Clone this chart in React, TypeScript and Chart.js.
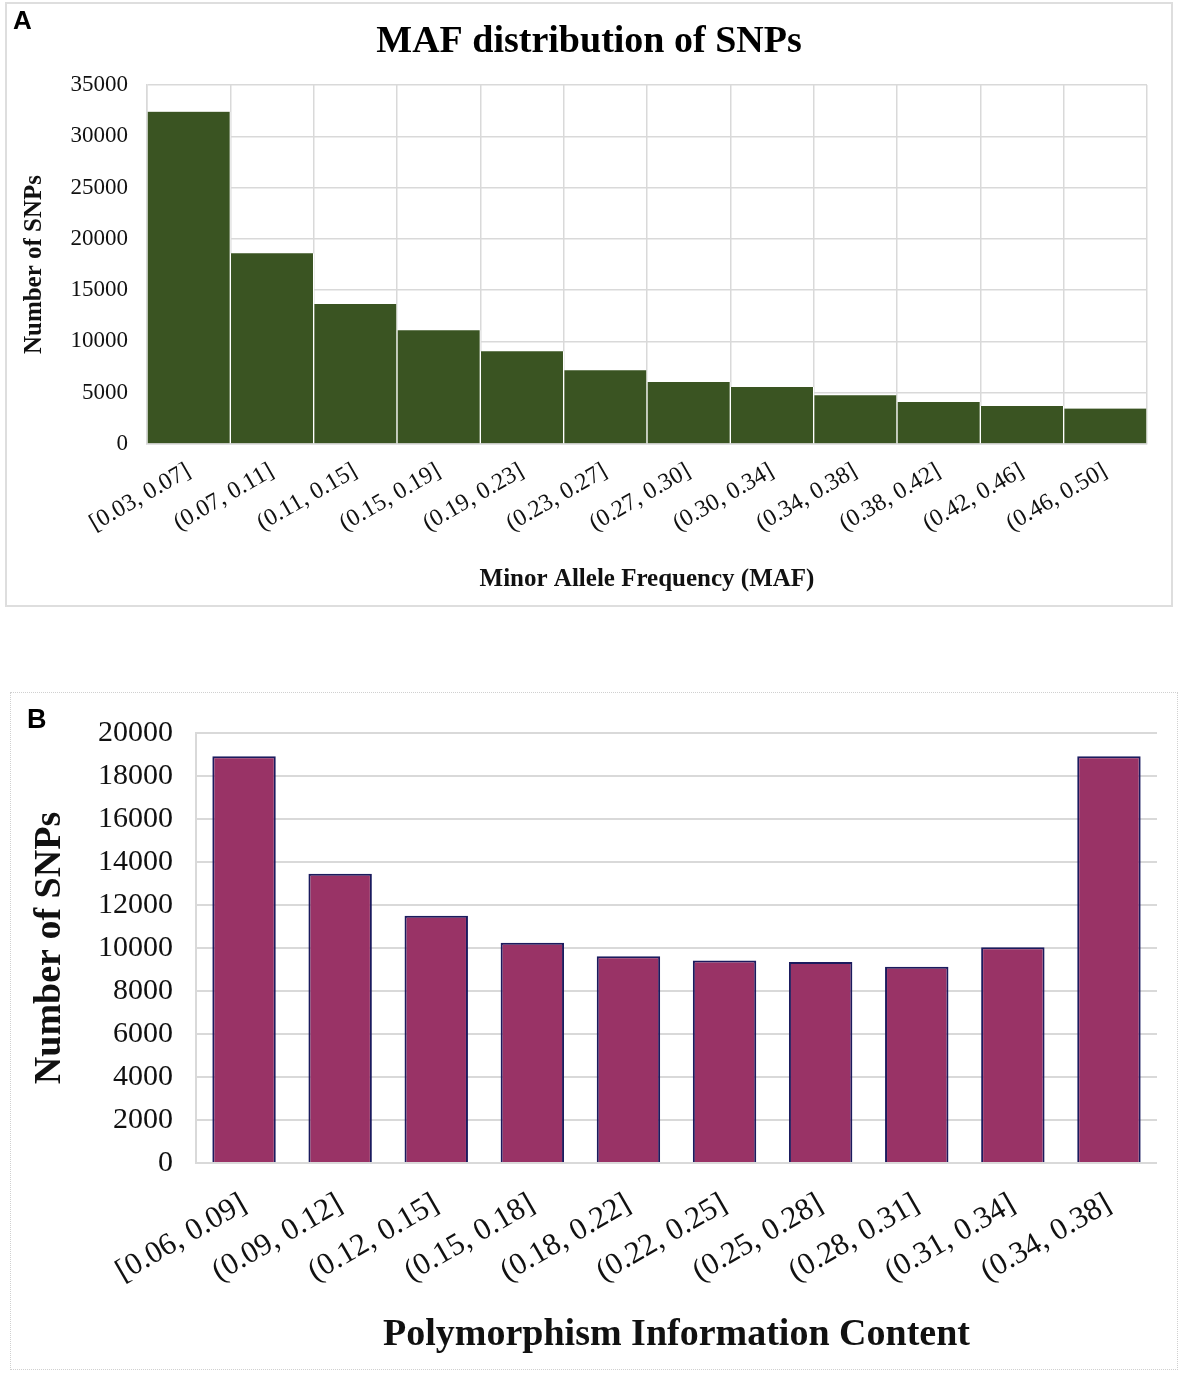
import React, { useEffect, useRef } from 'react';
import { Chart, registerables } from 'chart.js';
Chart.register(...registerables);

const SERIF = "'Liberation Serif', 'Times New Roman', serif";
const SANS = "'Liberation Sans', Arial, sans-serif";

// Panel A data
const mafCategories = [
  '[0.03, 0.07]', '(0.07, 0.11]', '(0.11, 0.15]', '(0.15, 0.19]', '(0.19, 0.23]', '(0.23, 0.27]',
  '(0.27, 0.30]', '(0.30, 0.34]', '(0.34, 0.38]', '(0.38, 0.42]', '(0.42, 0.46]', '(0.46, 0.50]',
];
const mafCounts = [32400, 18600, 13650, 11100, 9050, 7200, 6050, 5550, 4750, 4100, 3700, 3450];
const mafTitle = 'MAF distribution of SNPs';
const mafXTitle = 'Minor Allele Frequency (MAF)';
const mafYTitle = 'Number of SNPs';

// Panel B data
const picCategories = [
  '[0.06, 0.09]', '(0.09, 0.12]', '(0.12, 0.15]', '(0.15, 0.18]', '(0.18, 0.22]',
  '(0.22, 0.25]', '(0.25, 0.28]', '(0.28, 0.31]', '(0.31, 0.34]', '(0.34, 0.38]',
];
const picCounts = [18920, 13450, 11500, 10250, 9620, 9420, 9350, 9130, 10040, 18920];
const picXTitle = 'Polymorphism Information Content';
const picYTitle = 'Number of SNPs';

function ChartBox({ left, top, width, height, makeConfig }: any) {
  const ref = useRef<HTMLCanvasElement>(null);
  useEffect(() => {
    const chart = new Chart(ref.current as HTMLCanvasElement, makeConfig());
    return () => chart.destroy();
  }, []);
  return (
    <div style={{ position: 'absolute', left, top, width, height }}>
      <canvas ref={ref} width={width} height={height} style={{ width, height, display: 'block' }} />
    </div>
  );
}

const GRID = '#d9d9d9';
const plain = (v: any) => String(v);

// Title centred on the whole canvas (the reference centres it on the panel box)
const centeredTitle = {
  id: 'centeredTitle',
  afterDraw(chart: any, _args: any, opts: any) {
    const ctx = chart.ctx;
    ctx.save();
    ctx.font = `bold ${opts.size}px ${SERIF}`;
    ctx.fillStyle = '#000';
    ctx.textAlign = 'center';
    ctx.textBaseline = 'alphabetic';
    ctx.fillText(opts.text, chart.width / 2, opts.baseline);
    ctx.restore();
  },
};

function configA() {
  return {
    type: 'bar',
    data: {
      labels: mafCategories,
      datasets: [{
        data: mafCounts,
        backgroundColor: '#3a5422',
        borderColor: '#ffffff',
        borderWidth: { left: 1, right: 1, top: 0, bottom: 0 },
        borderSkipped: false,
        barPercentage: 1,
        categoryPercentage: 1,
      }],
    },
    plugins: [centeredTitle],
    options: {
      responsive: false,
      animation: false,
      devicePixelRatio: 1,
      layout: { padding: { left: 0, right: 26, top: 83, bottom: 0 } },
      plugins: {
        legend: { display: false },
        tooltip: { enabled: false },
        title: { display: false },
        centeredTitle: { text: mafTitle, size: 38, baseline: 50 },
      },
      scales: {
        x: {
          offset: true,
          afterFit: (s: any) => { s.height = 163; },
          grid: { display: true, color: GRID, lineWidth: 1.5, offset: true, drawTicks: false },
          border: { display: true, color: GRID, width: 1.5 },
          ticks: {
            autoSkip: false, maxRotation: 30, minRotation: 30, padding: 13,
            color: '#111', font: { family: SERIF, size: 24 },
          },
          title: {
            display: true, text: mafXTitle, color: '#111',
            font: { family: SERIF, size: 25, weight: 'bold', lineHeight: 1.2 },
            padding: { top: 0, bottom: 12 },
          },
        },
        y: {
          min: 0, max: 35000,
          afterFit: (s: any) => { s.width = 142; },
          grid: { color: GRID, lineWidth: 1.5, drawTicks: false },
          border: { display: true, color: GRID, width: 1.5 },
          ticks: {
            stepSize: 5000, padding: 19, color: '#111', callback: plain,
            font: { family: SERIF, size: 23 },
          },
          title: {
            display: true, text: mafYTitle, color: '#111',
            font: { family: SERIF, size: 25, weight: 'bold', lineHeight: 1.2 },
            padding: { top: 15, bottom: 0 },
          },
        },
      },
    },
  };
}

function configB() {
  return {
    type: 'bar',
    data: {
      labels: picCategories,
      datasets: [{
        data: picCounts,
        backgroundColor: '#993366',
        borderColor: '#1b1b5e',
        borderWidth: 2,
        borderSkipped: 'start',
        barPercentage: 0.66,
        categoryPercentage: 1,
      }],
    },
    options: {
      responsive: false,
      animation: false,
      devicePixelRatio: 1,
      layout: { padding: { left: 0, right: 21, top: 36, bottom: 0 } },
      plugins: {
        legend: { display: false },
        tooltip: { enabled: false },
        title: { display: false },
      },
      scales: {
        x: {
          offset: true,
          afterFit: (s: any) => { s.height = 207; },
          grid: { display: false, drawTicks: false },
          border: { display: false },
          ticks: {
            autoSkip: false, maxRotation: 30, minRotation: 30, padding: 23,
            color: '#111', font: { family: SERIF, size: 31 },
          },
          title: {
            display: true, text: picXTitle, color: '#111',
            font: { family: SERIF, size: 38, weight: 'bold', lineHeight: 1.2 },
            padding: { top: 0, bottom: 12 },
          },
        },
        y: {
          min: 0, max: 20000,
          afterFit: (s: any) => { s.width = 186; },
          grid: { color: GRID, lineWidth: 2, drawTicks: false },
          border: { display: true, color: GRID, width: 2 },
          ticks: {
            stepSize: 2000, padding: 23, color: '#111', callback: plain,
            font: { family: SERIF, size: 30 },
          },
          title: {
            display: true, text: picYTitle, color: '#111',
            font: { family: SERIF, size: 38, weight: 'bold', lineHeight: 1.2 },
            padding: { top: 17, bottom: 0 },
          },
        },
      },
    },
  };
}

export default function App() {
  return (
    <div style={{ position: 'absolute', left: 0, top: 0, width: 1181, height: 1375, background: '#fff' }}>
      <div style={{
        position: 'absolute', left: 5, top: 2, width: 1168, height: 605,
        boxSizing: 'border-box', border: '2px solid #dedede',
      }} />
      <div style={{
        position: 'absolute', left: 10, top: 692, width: 1168, height: 678,
        boxSizing: 'border-box', border: '1px dotted #d0d0d0',
      }} />
      <ChartBox left={5} top={2} width={1168} height={605} makeConfig={configA} />
      <ChartBox left={10} top={692} width={1168} height={678} makeConfig={configB} />
      <div style={{
        position: 'absolute', left: 13, top: 5, fontFamily: SANS, fontWeight: 'bold',
        fontSize: 26, lineHeight: '30px', color: '#000',
      }}>A</div>
      <div style={{
        position: 'absolute', left: 27, top: 703, fontFamily: SANS, fontWeight: 'bold',
        fontSize: 27, lineHeight: '32px', color: '#000',
      }}>B</div>
    </div>
  );
}
